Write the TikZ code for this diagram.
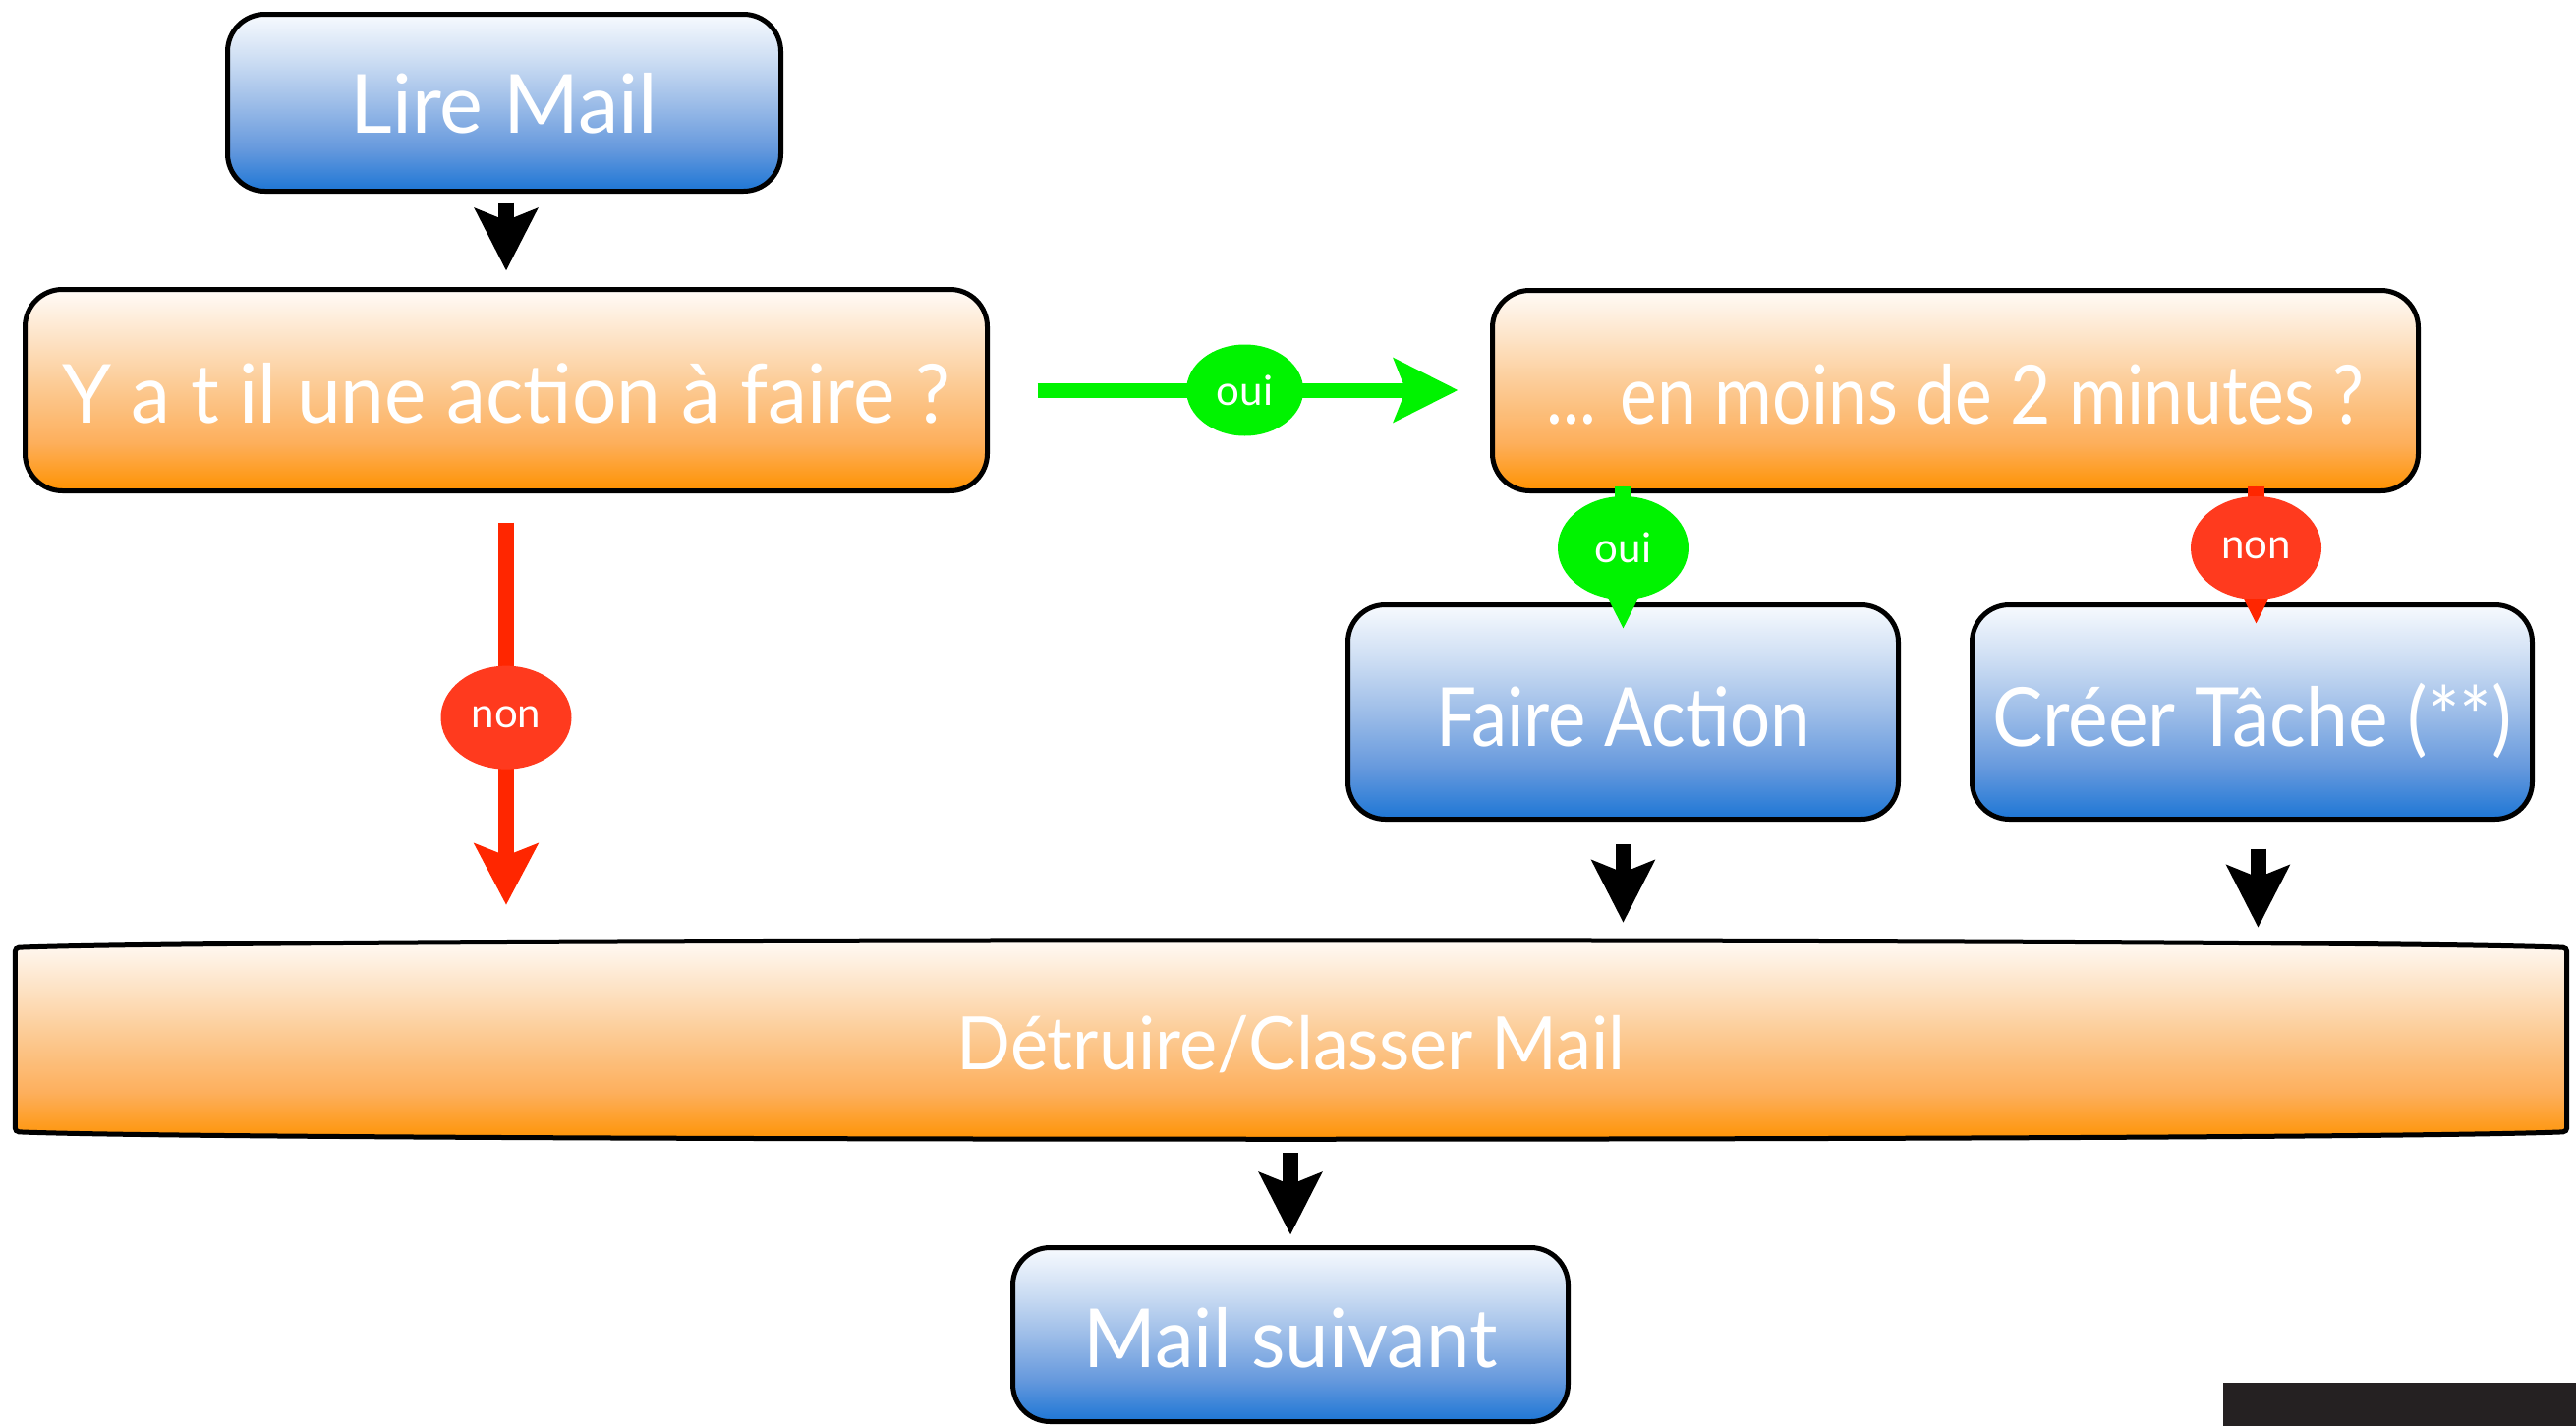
\documentclass[tikz,border=0pt]{standalone}
\usepackage{fontspec}
\usepackage{graphicx}
\setmainfont{Lato}
\usetikzlibrary{arrows.meta,shapes.geometric,calc,backgrounds}
\definecolor{bT}{HTML}{F7FAFE}
\definecolor{bA}{HTML}{CCDDF3}
\definecolor{bM}{HTML}{9DBDE8}
\definecolor{bC}{HTML}{6699DD}
\definecolor{bB}{HTML}{1D76D5}
\definecolor{oT}{HTML}{FFFBF7}
\definecolor{oA}{HTML}{FDE1C2}
\definecolor{oM}{HTML}{FCC88F}
\definecolor{oC}{HTML}{FDAF5C}
\definecolor{oB}{HTML}{FF9200}
\definecolor{ouigreen}{HTML}{00F300}
\definecolor{nonred}{HTML}{FF3A1E}
\definecolor{arrred}{HTML}{FF2600}
\definecolor{darkblock}{HTML}{252122}
\pgfdeclareverticalshading{bluegrad}{100bp}{color(0bp)=(bB); color(25bp)=(bB); color(37bp)=(bC); color(50bp)=(bM); color(62bp)=(bA); color(75bp)=(bT); color(100bp)=(bT)}
\pgfdeclareverticalshading{orangegrad}{100bp}{color(0bp)=(oB); color(25bp)=(oB); color(37bp)=(oC); color(50bp)=(oM); color(62bp)=(oA); color(75bp)=(oT); color(100bp)=(oT)}
\newcommand\narrow[2]{\scalebox{#1}[1]{#2}}
\tikzset{
  box/.style={draw=black, line width=5pt, rounded corners=38pt, inner sep=0pt, text=white, font=\fontsize{83}{90}\selectfont, text height=67pt, text depth=0pt},
  bluebox/.style={box, shade, shading=bluegrad},
  orangebox/.style={box, shade, shading=orangegrad},
  blk/.style={draw=black, line width=16pt, -{Stealth[length=63pt,width=63pt,inset=12pt]}},
  grnarrow/.style={draw=ouigreen, line width=15pt, -{Stealth[length=65pt,width=64pt,inset=12pt]}},
  redarrow/.style={draw=arrred, line width=16pt, -{Stealth[length=62pt,width=64pt,inset=12pt]}},
  dropline/.style={line width=17pt, -{Triangle[length=40pt,width=36pt]}},
  lbl/.style={ellipse, inner sep=0pt, text=white, font=\fontsize{42}{46}\selectfont},
  lblsmall/.style={lbl, minimum width=119pt, minimum height=93pt},
  lblbig/.style={lbl, minimum width=133pt, minimum height=105pt},
}
\begin{document}
\begin{tikzpicture}[x=1pt,y=-1pt]
\useasboundingbox (0,0) rectangle (2621,1451);
% boxes
\node[bluebox, minimum width=563pt, minimum height=180pt, text height=61pt] (lire) at (513,104.5) {Lire Mail};
\node[orangebox, minimum width=979pt, minimum height=205pt] (ya) at (515,397) {\narrow{0.967}{Y a t il une action à faire ?}};
\node[orangebox, minimum width=942pt, minimum height=204pt] (min) at (1989.5,397.5) {\narrow{0.86}{... en moins de 2 minutes ?}};
\node[bluebox, minimum width=560pt, minimum height=218pt, text height=70pt] (faire) at (1651.5,724.5) {\narrow{0.875}{Faire Action}};
\node[bluebox, minimum width=570pt, minimum height=218pt, text height=70pt] (creer) at (2291.5,724.5) {\narrow{0.926}{Créer Tâche (**)}};
\node[inner sep=0pt, text=white, minimum width=2596pt, minimum height=199pt, font=\fontsize{75}{80}\selectfont, text height=61pt, text depth=0pt] (det) at (1313.5,1058) {\narrow{0.963}{Détruire/Classer Mail}};
\begin{scope}[on background layer]
\path[draw=black, line width=5pt, shade, shading=orangegrad, rounded corners=4pt]
  ($(det.north west)+(0,6)$) .. controls ($(det.north west)+(250,-4)$) and ($(det.north east)+(-250,-4)$) .. ($(det.north east)+(0,6)$)
  -- ($(det.south east)+(0,-6)$) .. controls ($(det.south east)+(-250,4)$) and ($(det.south west)+(250,4)$) .. ($(det.south west)+(0,-6)$) -- cycle;
\end{scope}
\node[bluebox, minimum width=565pt, minimum height=177pt, text height=66pt] (next) at (1313,1358) {\narrow{0.96}{Mail suivant}};
% connectors
\draw[blk, shorten <=9.5pt, shorten >=16.5pt] (ya.north |- lire.south) -- (ya.north);
\draw[grnarrow, shorten <=48.5pt, shorten >=32.5pt] (ya.east) -- node[lblsmall, fill=ouigreen, pos=.51] (oui1) {oui} (ya.east -| min.west);
\draw[redarrow, shorten <=29.5pt, shorten >=37.5pt] (ya.south) -- node[lblbig, fill=nonred] (non1) {non} (ya.south |- det.north);
\draw[dropline, draw=ouigreen, fill=ouigreen, shorten <=-7.5pt, shorten >=-27.5pt] (faire.north |- min.south) -- node[lblbig, fill=ouigreen] (oui2) {oui} (faire.north);
\draw[dropline, draw=arrred, fill=arrred, shorten <=-7.5pt, shorten >=-22.5pt] ([xshift=4pt]creer.north |- min.south) -- node[lblbig, fill=nonred] (non2) {non} ([xshift=4pt]creer.north);
\draw[blk, shorten <=22.5pt, shorten >=19.5pt] (faire.south) -- (faire.south |- det.north);
\draw[blk, shorten <=27.5pt, shorten >=14.5pt] ([xshift=6pt]creer.south) -- ([xshift=6pt]creer.south |- det.north);
\draw[blk, shorten <=15.5pt, shorten >=10.5pt] (det.south -| next.north) -- (next.north);
% dark block bottom right
\fill[darkblock] (2262,1407) rectangle (2621,1451);
\end{tikzpicture}
\end{document}
